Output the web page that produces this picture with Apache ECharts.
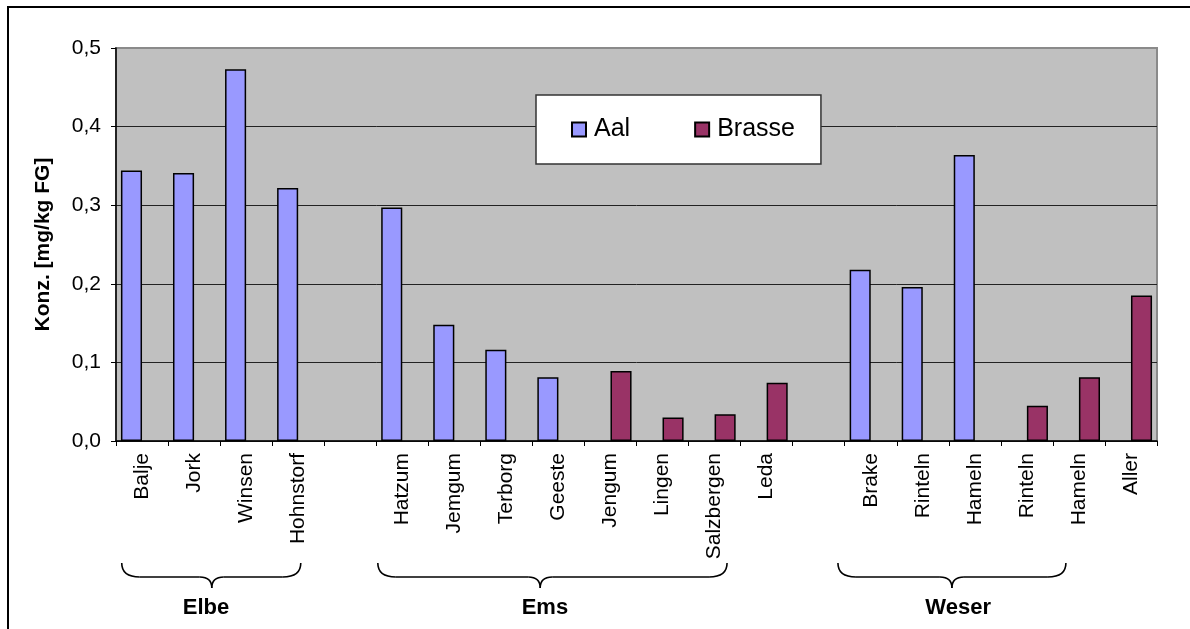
<!DOCTYPE html>
<html>
<head>
<meta charset="utf-8">
<script src="https://cdn.jsdelivr.net/npm/echarts@6/dist/echarts.min.js"></script>
<style>
html,body{margin:0;padding:0;background:#fff;}
#c{width:1190px;height:629px;}
</style>
</head>
<body>
<div id="c"></div>
<script>
// ---- data ----
var categories = ['Balje','Jork','Winsen','Hohnstorf',' ','Hatzum','Jemgum','Terborg','Geeste','Jengum','Lingen','Salzbergen','Leda','  ','Brake','Rinteln','Hameln','Rinteln','Hameln','Aller'];
var aal    = [0.344,0.341,0.473,0.322,null,0.297,0.148,0.116,0.081,null,null,null,null,null,0.218,0.196,0.364,null,null,null];
var brasse = [null,null,null,null,null,null,null,null,null,0.089,0.030,0.034,0.074,null,null,null,null,0.045,0.081,0.185];
var seriesNames = ['Aal','Brasse'];
var yTicks = [0,0.1,0.2,0.3,0.4,0.5];
var groupNames = ['Elbe','Ems','Weser'];

// ---- layout (category-index positions for braces) ----
var braceLayout = [
  {from:-0.39, to:3.05, tip:1.34, text:1.23},
  {from:4.53, to:11.24, tip:7.65, text:7.74},
  {from:13.37, to:17.75, tip:15.56, text:15.68}
];

var FONT = "'Liberation Sans', Arial, sans-serif";
var chart = echarts.init(document.getElementById('c'), null, {renderer:'canvas'});

var option = {
  backgroundColor:'#ffffff',
  animation:false,
  textStyle:{fontFamily:FONT},
  grid:{left:116, top:48, right:33, bottom:188, show:true, backgroundColor:'#C0C0C0', borderColor:'#8a8a8a', borderWidth:2},
  legend:{
    data:seriesNames,
    left:536, top:95,
    orient:'horizontal',
    itemWidth:14, itemHeight:14, itemGap:64,
    padding:[22,26,22,35],
    backgroundColor:'#ffffff',
    borderColor:'#333333', borderWidth:1.5,
    textStyle:{fontSize:25, color:'#000', fontFamily:FONT, padding:[0,0,0,3]},
    icon:'rect'
  },
  xAxis:{
    type:'category',
    data:categories,
    axisLine:{lineStyle:{color:'#000', width:1.5}},
    axisTick:{show:true, length:5, lineStyle:{color:'#000', width:1}},
    axisLabel:{interval:0, rotate:90, fontSize:21, color:'#000', margin:12, fontFamily:FONT},
    splitLine:{show:false}
  },
  yAxis:{
    type:'value',
    min:yTicks[0], max:yTicks[yTicks.length-1], interval:0.1,
    name:'Konz. [mg/kg FG]',
    nameLocation:'middle', nameRotate:90, nameGap:62,
    nameTextStyle:{fontSize:21, fontWeight:'bold', color:'#000', fontFamily:FONT},
    axisLine:{show:true, lineStyle:{color:'#000', width:1.5}},
    axisTick:{show:true, length:5, lineStyle:{color:'#000'}},
    axisLabel:{fontSize:21, color:'#000', margin:15, fontFamily:FONT,
      formatter:function(v){return v.toFixed(1).replace('.',',');}},
    splitLine:{show:true, showMaxLine:false, lineStyle:{color:'#222', width:1}}
  },
  series:[
    {name:seriesNames[0], type:'bar', data:aal, barGap:'0%', barCategoryGap:'19%',
     itemStyle:{color:'#9999FF', borderColor:'#000', borderWidth:1.5}},
    {name:seriesNames[1], type:'bar', data:brasse, barGap:'0%', barCategoryGap:'19%',
     itemStyle:{color:'#993366', borderColor:'#000', borderWidth:1.5}}
  ]
};
chart.setOption(option);

function xAt(pos){
  var p0 = chart.convertToPixel({xAxisIndex:0}, 0);
  var p1 = chart.convertToPixel({xAxisIndex:0}, 1);
  return p0 + (p1-p0)*pos;
}
var graphics = [];
var y0 = 563, y1 = 577, y2 = 588;
var ls = {stroke:'#000', lineWidth:1.6, fill:null};
braceLayout.forEach(function(b, i){
  var x1 = xAt(b.from), x2 = xAt(b.to), xm = xAt(b.tip);
  var r = 18, r2 = 12;
  graphics.push({type:'bezierCurve', shape:{x1:x1, y1:y0, cpx1:x1, cpy1:y1, x2:x1+r, y2:y1}, style:ls, silent:true});
  graphics.push({type:'line', shape:{x1:x1+r, y1:y1, x2:xm-r2, y2:y1}, style:ls, silent:true});
  graphics.push({type:'bezierCurve', shape:{x1:xm-r2, y1:y1, cpx1:xm, cpy1:y1, x2:xm, y2:y2}, style:ls, silent:true});
  graphics.push({type:'bezierCurve', shape:{x1:xm, y1:y2, cpx1:xm, cpy1:y1, x2:xm+r2, y2:y1}, style:ls, silent:true});
  graphics.push({type:'line', shape:{x1:xm+r2, y1:y1, x2:x2-r, y2:y1}, style:ls, silent:true});
  graphics.push({type:'bezierCurve', shape:{x1:x2-r, y1:y1, cpx1:x2, cpy1:y1, x2:x2, y2:y0}, style:ls, silent:true});
  graphics.push({type:'text', x:xAt(b.text), y:608, style:{text:groupNames[i], fontSize:22, fontWeight:'bold', fill:'#000', fontFamily:FONT, align:'center', verticalAlign:'middle'}, silent:true});
});
graphics.push({type:'rect', shape:{x:8, y:7, width:1300, height:800}, style:{fill:null, stroke:'#000', lineWidth:2}, silent:true, z:100});
chart.setOption({graphic:graphics});
</script>
</body>
</html>
